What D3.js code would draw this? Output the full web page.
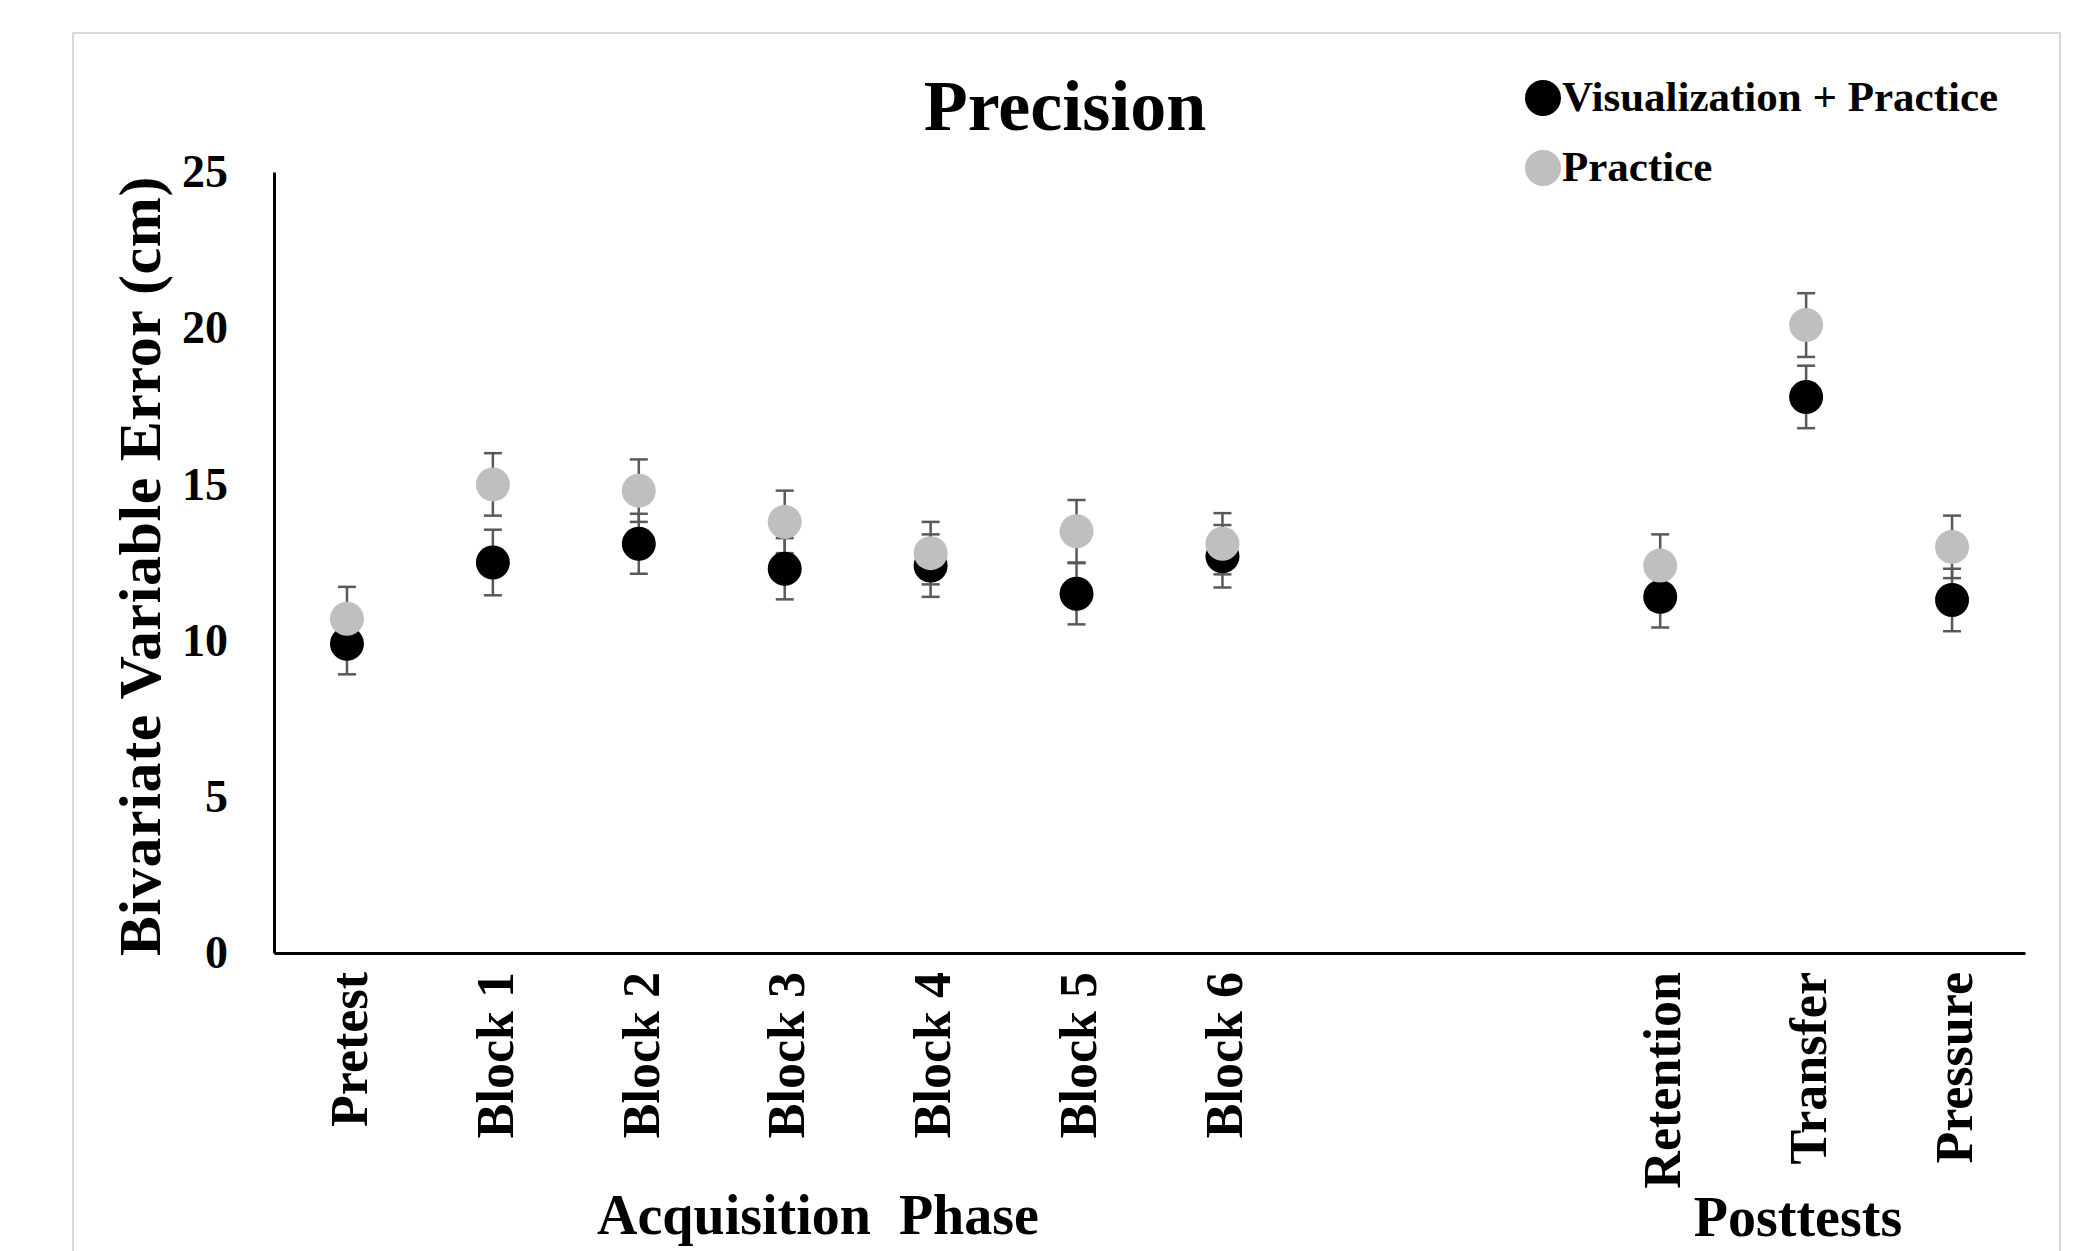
<!DOCTYPE html>
<html>
<head>
<meta charset="utf-8">
<script src="https://cdn.jsdelivr.net/npm/d3@7"></script>
<style>
body { margin: 0; background: #fff; }
svg text { font-family: "Liberation Serif", "Times New Roman", serif; font-weight: bold; fill: #000; }
</style>
</head>
<body>
<svg id="chart"></svg>
<script>
// categories (two empty slots separate acquisition from posttests)
var categories = ["Pretest", "Block 1", "Block 2", "Block 3", "Block 4", "Block 5", "Block 6", "", "", "Retention", "Transfer", "Pressure"];

var visPractice    = [9.9, 12.5, 13.1, 12.3, 12.4, 11.5, 12.7, null, null, 11.4, 17.8, 11.3];
var visPracticeErr = [0.98, 1.05, 0.96, 0.98, 1.0, 0.98, 1.0, null, null, 0.98, 1.0, 1.0];
var practice       = [10.7, 15.0, 14.8, 13.8, 12.8, 13.5, 13.1, null, null, 12.4, 20.1, 13.0];
var practiceErr    = [1.02, 1.0, 1.0, 1.0, 1.0, 1.0, 0.98, null, null, 1.0, 1.02, 1.0];

var yTicks = [0, 5, 10, 15, 20, 25];
var seriesNames = ["Visualization + Practice", "Practice"];

var svgWidth = 2075, svgHeight = 1251;
var plotLeft = 274, plotRight = 2025, plotTop = 172, plotBottom = 953;

var chart = d3.select('#chart')
	.attr('width', svgWidth)
	.attr('height', svgHeight);

// chart area border
chart.append('rect')
	.attr('x', 73).attr('y', 33)
	.attr('width', 1987).attr('height', 1300)
	.attr('fill', '#fff')
	.attr('stroke', '#d9d9d9')
	.attr('stroke-width', 2);

var xScale = d3.scaleBand()
	.domain(d3.range(categories.length))
	.range([plotLeft, plotRight])
	.padding(0);

var yScale = d3.scaleLinear()
	.domain([0, 25])
	.range([plotBottom, plotTop]);

var series = [
	{name: seriesNames[0], color: '#000000', values: visPractice, errs: visPracticeErr},
	{name: seriesNames[1], color: '#bfbfbf', values: practice, errs: practiceErr}
];

series.forEach(function(s){
	s.points = s.values.map(function(v, i){
		return {i: i, v: v, e: s.errs[i]};
	}).filter(function(d){ return d.v != null; });
});

function cx(d){ return xScale(d.i) + xScale.bandwidth()/2; }

// axes
var yAxis = chart.append('g')
	.attr('transform', 'translate(' + plotLeft + ',0)')
	.call(d3.axisLeft(yScale).tickValues(yTicks).tickSize(0).tickSizeOuter(0).tickPadding(46));
yAxis.select('.domain').attr('stroke', '#000').attr('stroke-width', 3);
yAxis.selectAll('text').style('font-size', '46px');

var xAxis = chart.append('g')
	.attr('transform', 'translate(0,' + plotBottom + ')')
	.call(d3.axisBottom(xScale).tickSize(0).tickSizeOuter(0).tickFormat(function(i){ return categories[i]; }));
xAxis.select('.domain').attr('stroke', '#000').attr('stroke-width', 3);
xAxis.selectAll('text')
	.style('font-size', '52px')
	.style('text-anchor', 'end')
	.attr('x', -19)
	.attr('y', 0)
	.attr('dy', '0.38em')
	.attr('transform', 'rotate(-90)');

// error bars
var bars = chart.append('g').attr('id', 'error-bars');
series.forEach(function(s){
	var g = bars.append('g');
	g.selectAll('.stem').data(s.points).enter().append('line')
		.attr('x1', cx).attr('x2', cx)
		.attr('y1', function(d){ return yScale(d.v + d.e); })
		.attr('y2', function(d){ return yScale(d.v - d.e); })
		.attr('stroke', '#595959').attr('stroke-width', 2.5);
	[1, -1].forEach(function(sign){
		g.selectAll('.cap' + sign).data(s.points).enter().append('line')
			.attr('x1', function(d){ return cx(d) - 9; })
			.attr('x2', function(d){ return cx(d) + 9; })
			.attr('y1', function(d){ return yScale(d.v + sign*d.e); })
			.attr('y2', function(d){ return yScale(d.v + sign*d.e); })
			.attr('stroke', '#595959').attr('stroke-width', 2.5);
	});
});

// markers
series.forEach(function(s){
	chart.append('g').selectAll('circle')
		.data(s.points).enter().append('circle')
		.attr('cx', cx)
		.attr('cy', function(d){ return yScale(d.v); })
		.attr('r', 17)
		.attr('fill', s.color);
});

// title
chart.append('text')
	.attr('x', 1065).attr('y', 130)
	.style('font-size', '72px')
	.style('text-anchor', 'middle')
	.text('Precision');

// y axis title
chart.append('text')
	.attr('transform', 'translate(160,' + 566 + ') rotate(-90)')
	.style('font-size', '60px')
	.style('letter-spacing', '0.6px')
	.style('text-anchor', 'middle')
	.text('Bivariate Variable Error (cm)');

// group titles
chart.append('text')
	.attr('x', 818).attr('y', 1234)
	.style('font-size', '56px')
	.style('text-anchor', 'middle')
	.style('white-space', 'pre')
	.text('Acquisition  Phase');

chart.append('text')
	.attr('x', 1798).attr('y', 1236)
	.style('font-size', '56px')
	.style('text-anchor', 'middle')
	.text('Posttests');

// legend
var legend = chart.append('g').attr('id', 'legend');
series.forEach(function(s, k){
	var ly = [98, 168][k];
	legend.append('circle')
		.attr('cx', 1543).attr('cy', ly)
		.attr('r', 18)
		.attr('fill', s.color);
	legend.append('text')
		.attr('x', 1562).attr('y', ly + 13)
		.style('font-size', '43px')
		.text(s.name);
});
</script>
</body>
</html>
